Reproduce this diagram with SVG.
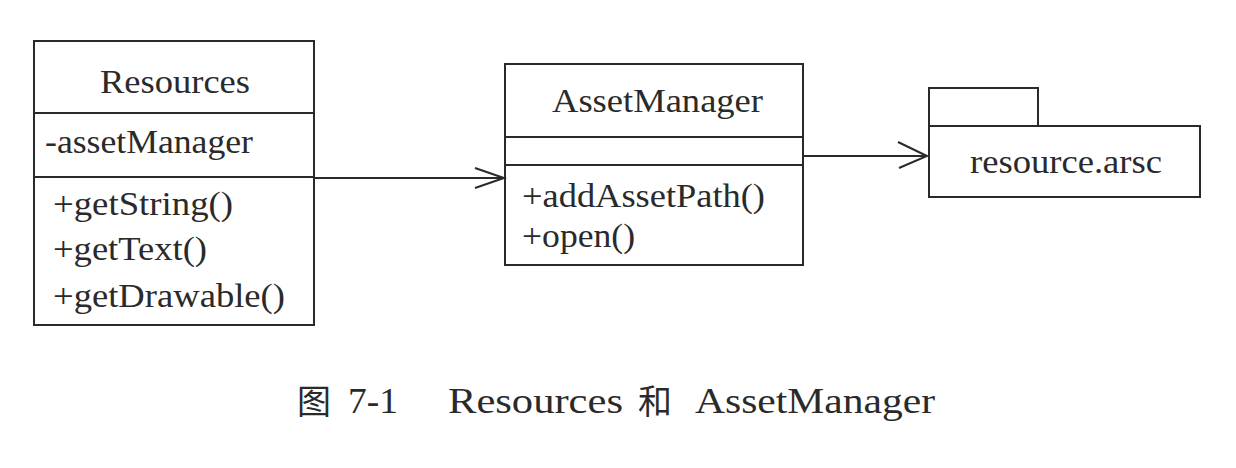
<svg xmlns="http://www.w3.org/2000/svg" width="1236" height="468" viewBox="0 0 1236 468">
<style>
.box{fill:none;stroke:#2a2a2a;stroke-width:2}
.ln{fill:none;stroke:#2a2a2a;stroke-width:2}
.t{font-family:"Liberation Serif","Times New Roman",serif;font-size:33px;fill:#2a2a2a}
.c{font-family:"Liberation Serif","Noto Sans CJK SC",serif;font-size:35px;fill:#2a2a2a}
.cj{font-family:"Noto Sans CJK SC",sans-serif;font-size:34px;fill:#2a2a2a}
</style>
<rect width="1236" height="468" fill="#ffffff"/>
<g id="connectors">
<line class="ln" x1="314" y1="178" x2="504" y2="178"/>
<polyline class="ln" points="475,168 504,178 475,188"/>
<line class="ln" x1="803" y1="156" x2="927" y2="156"/>
<polyline class="ln" points="898,142 927,156 899,168"/>
</g>
<g id="resources">
<rect class="box" x="34" y="41" width="280" height="284"/>
<line class="ln" x1="34" y1="113" x2="314" y2="113"/>
<line class="ln" x1="34" y1="177" x2="314" y2="177"/>
<text class="t" x="100" y="93" textLength="150" lengthAdjust="spacingAndGlyphs">Resources</text>
<text class="t" x="45" y="153" textLength="208" lengthAdjust="spacingAndGlyphs">-assetManager</text>
<text class="t" x="53" y="215" textLength="180" lengthAdjust="spacingAndGlyphs">+getString()</text>
<text class="t" x="53" y="260" textLength="154" lengthAdjust="spacingAndGlyphs">+getText()</text>
<text class="t" x="53" y="307" textLength="232" lengthAdjust="spacingAndGlyphs">+getDrawable()</text>
</g>
<g id="assetmanager">
<rect class="box" x="505" y="64" width="298" height="201"/>
<line class="ln" x1="505" y1="137" x2="803" y2="137"/>
<line class="ln" x1="505" y1="165" x2="803" y2="165"/>
<text class="t" x="552" y="112" textLength="211" lengthAdjust="spacingAndGlyphs">AssetManager</text>
<text class="t" x="522" y="207" textLength="243" lengthAdjust="spacingAndGlyphs">+addAssetPath()</text>
<text class="t" x="522" y="247" textLength="113" lengthAdjust="spacingAndGlyphs">+open()</text>
</g>
<g id="resource-arsc">
<rect class="box" x="929" y="88" width="109" height="38"/>
<rect class="box" x="929" y="126" width="271" height="71"/>
<text class="t" x="970" y="173" textLength="192" lengthAdjust="spacingAndGlyphs">resource.arsc</text>
</g>
<g id="caption">
<text class="cj" x="297" y="414">图</text>
<text class="c" x="348" y="413" textLength="50" lengthAdjust="spacingAndGlyphs">7-1</text>
<text class="c" x="448" y="413" textLength="175" lengthAdjust="spacingAndGlyphs">Resources</text>
<text class="cj" x="638" y="414">和</text>
<text class="c" x="695" y="413" textLength="240" lengthAdjust="spacingAndGlyphs">AssetManager</text>
</g>
</svg>
